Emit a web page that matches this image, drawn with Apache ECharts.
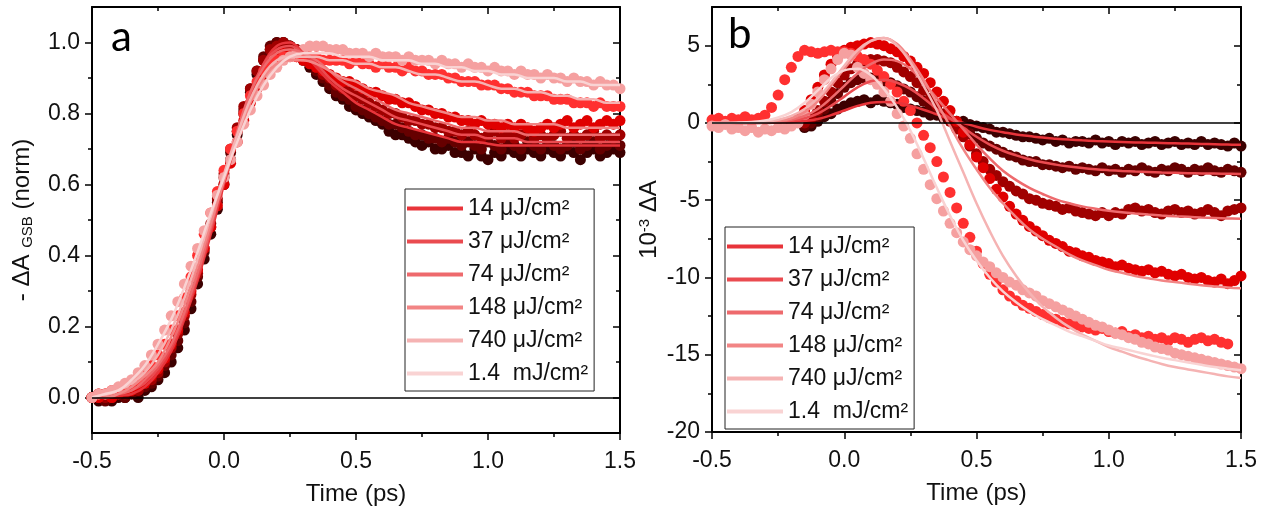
<!DOCTYPE html>
<html><head><meta charset="utf-8">
<script src="https://cdn.jsdelivr.net/npm/echarts@6/dist/echarts.min.js"></script>
<style>html,body{margin:0;padding:0;background:#fff}#c{width:1269px;height:513px}</style>
</head><body><div id="c"></div>
<script>
// ---- time grids (ps) ----
const T = [-0.5,-0.475,-0.45,-0.425,-0.4,-0.375,-0.35,-0.325,-0.3,-0.275,-0.25,-0.225,-0.2,-0.175,-0.15,-0.125,-0.1,-0.075,-0.05,-0.025,0,0.025,0.05,0.075,0.1,0.125,0.15,0.175,0.2,0.225,0.25,0.275,0.3,0.325,0.35,0.375,0.4,0.425,0.45,0.475,0.5,0.525,0.55,0.575,0.6,0.625,0.65,0.675,0.7,0.725,0.75,0.775,0.8,0.825,0.85,0.875,0.9,0.925,0.95,0.975,1.0,1.025,1.05,1.075,1.1,1.125,1.15,1.175,1.2,1.225,1.25,1.275,1.3,1.325,1.35,1.375,1.4,1.425,1.45,1.475,1.5];
const TF = [-0.5,-0.45,-0.4,-0.35,-0.3,-0.25,-0.2,-0.15,-0.1,-0.05,0,0.05,0.1,0.15,0.2,0.25,0.3,0.35,0.4,0.45,0.5,0.55,0.6,0.65,0.7,0.75,0.8,0.85,0.9,0.95,1.0,1.05,1.1,1.15,1.2,1.25,1.3,1.35,1.4,1.45,1.5];

// ---- legend labels (fluence) ----
const names = ['14 μJ/cm²','37 μJ/cm²','74 μJ/cm²','148 μJ/cm²','740 μJ/cm²','1.4  mJ/cm²'];

// ---- panel a: -ΔA GSB (norm), measured points ----
const a14 = [0.0,-0.01,0.0,-0.01,0.0,0.0,0.01,0.0,0.02,0.03,0.05,0.07,0.10,0.14,0.19,0.25,0.32,0.39,0.46,0.53,0.60,0.67,0.74,0.80,0.86,0.91,0.95,0.98,1.0,1.0,0.99,0.97,0.95,0.93,0.91,0.89,0.87,0.85,0.84,0.82,0.81,0.80,0.79,0.78,0.77,0.75,0.74,0.74,0.73,0.72,0.71,0.72,0.70,0.70,0.71,0.69,0.69,0.68,0.70,0.68,0.67,0.69,0.68,0.70,0.69,0.68,0.70,0.69,0.68,0.70,0.69,0.68,0.70,0.69,0.67,0.69,0.70,0.68,0.69,0.70,0.69];
const a37 = [0.0,0.0,-0.01,0.0,0.01,0.0,0.01,0.02,0.03,0.04,0.06,0.09,0.12,0.16,0.21,0.27,0.34,0.41,0.48,0.55,0.62,0.69,0.75,0.81,0.87,0.92,0.96,0.99,1.0,1.0,0.99,0.98,0.96,0.94,0.92,0.90,0.88,0.86,0.85,0.84,0.82,0.81,0.80,0.79,0.78,0.77,0.77,0.76,0.75,0.74,0.74,0.73,0.73,0.72,0.73,0.72,0.71,0.72,0.71,0.70,0.72,0.71,0.70,0.72,0.71,0.70,0.72,0.71,0.70,0.72,0.71,0.70,0.71,0.72,0.70,0.71,0.72,0.70,0.71,0.72,0.71];
const a74 = [0.0,0.01,0.0,0.0,0.01,0.01,0.02,0.02,0.04,0.05,0.07,0.10,0.14,0.18,0.23,0.29,0.35,0.42,0.49,0.56,0.63,0.70,0.76,0.82,0.87,0.92,0.95,0.98,0.99,1.0,0.99,0.98,0.97,0.95,0.93,0.91,0.90,0.88,0.87,0.86,0.85,0.84,0.83,0.82,0.81,0.80,0.80,0.79,0.78,0.78,0.77,0.77,0.76,0.76,0.75,0.75,0.74,0.75,0.74,0.73,0.74,0.75,0.73,0.74,0.73,0.74,0.75,0.73,0.74,0.73,0.74,0.75,0.73,0.74,0.73,0.74,0.75,0.73,0.74,0.73,0.74];
const a148 = [0.0,0.0,0.01,0.0,0.01,0.02,0.02,0.03,0.04,0.06,0.08,0.11,0.15,0.19,0.24,0.30,0.36,0.42,0.48,0.54,0.60,0.66,0.72,0.78,0.83,0.87,0.91,0.94,0.96,0.97,0.97,0.96,0.95,0.94,0.93,0.92,0.91,0.90,0.89,0.89,0.88,0.87,0.86,0.86,0.85,0.84,0.84,0.83,0.83,0.82,0.81,0.81,0.80,0.80,0.79,0.79,0.78,0.78,0.77,0.78,0.77,0.77,0.76,0.77,0.76,0.77,0.76,0.75,0.76,0.77,0.76,0.77,0.78,0.76,0.77,0.78,0.76,0.77,0.78,0.77,0.78];
const a740 = [0.0,0.01,0.01,0.02,0.02,0.03,0.04,0.05,0.07,0.09,0.12,0.15,0.19,0.23,0.28,0.34,0.40,0.46,0.52,0.58,0.64,0.70,0.75,0.80,0.85,0.89,0.92,0.94,0.95,0.96,0.96,0.96,0.96,0.96,0.96,0.95,0.95,0.95,0.95,0.94,0.95,0.94,0.94,0.93,0.94,0.93,0.93,0.92,0.93,0.92,0.92,0.91,0.91,0.91,0.90,0.90,0.89,0.89,0.89,0.88,0.88,0.88,0.87,0.87,0.86,0.86,0.86,0.85,0.85,0.85,0.84,0.84,0.84,0.83,0.83,0.83,0.82,0.83,0.82,0.82,0.82];
const a1400 = [0.0,0.01,0.01,0.02,0.03,0.04,0.05,0.07,0.09,0.12,0.15,0.19,0.23,0.27,0.32,0.37,0.42,0.47,0.52,0.57,0.62,0.67,0.72,0.77,0.81,0.85,0.88,0.91,0.93,0.95,0.96,0.97,0.98,0.99,0.99,0.99,0.98,0.98,0.98,0.97,0.97,0.97,0.96,0.97,0.96,0.96,0.96,0.95,0.96,0.95,0.95,0.95,0.94,0.95,0.94,0.94,0.93,0.94,0.93,0.93,0.92,0.93,0.92,0.92,0.91,0.92,0.91,0.91,0.90,0.91,0.90,0.90,0.89,0.90,0.89,0.89,0.88,0.89,0.88,0.88,0.87];
// ---- panel a fits ----
const fa14 = [0.0,0.0,0.005,0.01,0.03,0.07,0.13,0.22,0.33,0.46,0.60,0.73,0.85,0.94,0.99,1.0,0.97,0.93,0.89,0.86,0.83,0.81,0.79,0.77,0.76,0.75,0.74,0.73,0.72,0.72,0.715,0.71,0.71,0.71,0.71,0.71,0.71,0.71,0.71,0.71,0.71];
const fa37 = [0.0,0.0,0.01,0.02,0.04,0.08,0.14,0.23,0.34,0.47,0.61,0.74,0.86,0.94,0.98,0.99,0.97,0.94,0.90,0.87,0.85,0.83,0.81,0.79,0.78,0.77,0.76,0.75,0.74,0.74,0.73,0.73,0.73,0.72,0.72,0.72,0.72,0.72,0.72,0.72,0.72];
const fa74 = [0.0,0.0,0.01,0.02,0.05,0.09,0.15,0.24,0.35,0.48,0.62,0.75,0.86,0.93,0.97,0.98,0.97,0.95,0.92,0.89,0.87,0.85,0.83,0.81,0.80,0.79,0.78,0.77,0.76,0.76,0.75,0.75,0.75,0.74,0.74,0.74,0.74,0.74,0.74,0.74,0.74];
const fa148 = [0.0,0.0,0.01,0.03,0.06,0.10,0.17,0.26,0.37,0.49,0.61,0.73,0.83,0.90,0.94,0.95,0.95,0.94,0.92,0.90,0.89,0.87,0.86,0.85,0.83,0.82,0.81,0.80,0.79,0.79,0.78,0.78,0.77,0.77,0.77,0.77,0.76,0.76,0.76,0.76,0.76];
const fa740 = [0.0,0.01,0.02,0.04,0.07,0.12,0.19,0.28,0.39,0.51,0.63,0.74,0.84,0.91,0.95,0.96,0.96,0.96,0.95,0.95,0.94,0.94,0.93,0.93,0.92,0.91,0.91,0.90,0.89,0.89,0.88,0.87,0.87,0.86,0.86,0.85,0.85,0.84,0.84,0.83,0.83];
const fa1400 = [0.0,0.01,0.02,0.05,0.09,0.15,0.22,0.31,0.41,0.52,0.62,0.72,0.81,0.88,0.93,0.96,0.97,0.97,0.97,0.96,0.96,0.96,0.95,0.95,0.95,0.94,0.94,0.93,0.93,0.92,0.92,0.91,0.91,0.90,0.90,0.90,0.89,0.89,0.88,0.88,0.88];

// ---- panel b: 10^-3 ΔA, measured points ----
const b14 = [null,null,null,null,null,null,null,null,null,null,null,null,null,null,-0.3,-0.2,0.1,0.4,0.6,0.9,1.1,1.3,1.4,1.5,1.3,1.5,1.4,1.3,1.2,1.0,0.9,0.8,0.7,0.5,0.5,0.3,0.2,0.1,0.1,-0.1,-0.2,-0.3,-0.4,-0.6,-0.6,-0.7,-0.8,-0.9,-0.9,-1.0,-1.1,-1.0,-1.2,-1.1,-1.3,-1.2,-1.2,-1.3,-1.1,-1.3,-1.2,-1.4,-1.2,-1.3,-1.2,-1.4,-1.3,-1.2,-1.4,-1.3,-1.2,-1.4,-1.3,-1.4,-1.2,-1.4,-1.3,-1.4,-1.5,-1.3,-1.5];
const b37 = [null,null,null,null,null,null,null,null,null,null,null,null,null,null,-0.2,0.0,0.4,0.9,1.4,1.9,2.3,2.6,2.8,2.9,2.9,2.8,2.7,2.6,2.4,2.2,2.0,1.7,1.4,1.1,0.8,0.5,0.2,-0.1,-0.4,-0.7,-1.0,-1.3,-1.5,-1.7,-1.9,-2.1,-2.2,-2.4,-2.5,-2.5,-2.7,-2.7,-2.8,-2.9,-2.8,-3.0,-2.9,-3.0,-3.1,-2.9,-3.1,-3.0,-3.2,-3.0,-3.1,-2.9,-3.1,-3.2,-3.0,-3.1,-2.9,-3.0,-3.2,-3.0,-3.1,-2.9,-3.1,-3.2,-3.0,-3.1,-3.2];
const b74 = [null,null,null,null,null,null,null,null,null,null,null,null,null,null,0.0,0.3,0.8,1.4,2.0,2.6,3.1,3.5,3.8,4.0,4.1,4.1,4.0,3.9,3.6,3.3,3.0,2.6,2.1,1.6,1.1,0.6,0.1,-0.4,-0.9,-1.5,-2.0,-2.5,-3.0,-3.4,-3.8,-4.1,-4.4,-4.6,-4.9,-5.0,-5.2,-5.3,-5.4,-5.6,-5.5,-5.7,-5.8,-5.9,-6.0,-5.8,-6.0,-5.8,-5.9,-5.6,-5.5,-5.7,-5.6,-5.8,-5.9,-5.7,-5.6,-5.8,-5.7,-5.9,-5.8,-5.6,-5.8,-6.0,-5.7,-5.6,-5.5];
const b148 = [null,null,null,null,null,null,null,null,null,null,null,null,0.0,0.3,0.8,1.5,2.3,3.1,3.8,4.3,4.7,4.9,5.0,5.1,5.2,5.1,5.0,4.8,4.6,4.3,4.0,3.6,3.2,2.6,2.0,1.4,0.8,0.1,-0.6,-1.4,-2.2,-2.9,-3.6,-4.3,-4.8,-5.4,-5.9,-6.3,-6.7,-7.0,-7.3,-7.6,-7.8,-8.0,-8.3,-8.4,-8.6,-8.7,-8.9,-9.0,-9.1,-9.3,-9.2,-9.4,-9.5,-9.6,-9.5,-9.7,-9.6,-9.8,-9.9,-9.8,-10.0,-10.1,-10.0,-10.2,-10.3,-10.1,-10.4,-10.2,-9.9];
const b740 = [0.2,0.3,0.1,0.3,0.2,0.4,0.2,0.3,0.5,1.0,1.8,2.8,3.6,4.3,4.7,4.6,4.5,4.6,4.7,4.6,4.6,4.5,4.3,4.1,3.8,3.4,3.0,2.5,2.0,1.4,0.8,0.0,-0.8,-1.6,-2.5,-3.5,-4.5,-5.5,-6.5,-7.4,-8.3,-9.1,-9.8,-10.3,-10.8,-11.2,-11.5,-11.8,-12.0,-12.2,-12.4,-12.6,-12.7,-12.9,-13.0,-13.1,-13.2,-13.3,-13.4,-13.3,-13.5,-13.6,-13.5,-13.8,-13.7,-13.9,-13.8,-14.0,-13.9,-14.1,-13.9,-14.0,-14.2,-14.0,-13.9,-14.1,-14.0,-14.2,-14.3,null,null];
const b1400 = [-0.2,-0.3,-0.1,-0.4,-0.3,-0.5,-0.3,-0.6,-0.4,-0.5,-0.3,-0.4,-0.2,0.0,0.5,1.2,2.0,2.8,3.5,4.1,4.5,4.4,3.6,3.2,2.8,2.5,2.0,1.4,0.6,-0.2,-1.0,-2.0,-3.0,-4.0,-4.9,-5.7,-6.5,-7.1,-7.7,-8.2,-8.6,-9.0,-9.3,-9.7,-10.0,-10.3,-10.5,-10.8,-11.0,-11.2,-11.5,-11.7,-11.9,-12.1,-12.3,-12.5,-12.7,-12.9,-13.1,-13.2,-13.4,-13.6,-13.7,-13.9,-14.0,-14.2,-14.3,-14.5,-14.6,-14.7,-14.9,-15.0,-15.1,-15.2,-15.3,-15.4,-15.5,-15.6,-15.7,-15.8,-15.9];
// ---- panel b fits ----
const fb14 = [0,0,0,0,0,0.02,0.05,0.12,0.25,0.5,0.8,1.1,1.3,1.35,1.3,1.1,0.85,0.55,0.25,0.0,-0.25,-0.45,-0.6,-0.75,-0.85,-0.95,-1.02,-1.08,-1.13,-1.17,-1.2,-1.23,-1.26,-1.28,-1.3,-1.32,-1.34,-1.36,-1.38,-1.4,-1.42];
const fb37 = [0,0,0,0,0.01,0.05,0.12,0.3,0.6,1.1,1.7,2.3,2.7,2.8,2.6,2.2,1.6,0.9,0.3,-0.3,-0.9,-1.4,-1.8,-2.1,-2.35,-2.55,-2.7,-2.82,-2.92,-3.0,-3.06,-3.11,-3.15,-3.18,-3.21,-3.23,-3.25,-3.27,-3.28,-3.29,-3.3];
const fb74 = [0,0,0,0,0.02,0.08,0.2,0.45,0.9,1.6,2.4,3.2,3.8,4.1,4.0,3.5,2.6,1.6,0.6,-0.4,-1.4,-2.3,-3.1,-3.7,-4.2,-4.6,-4.95,-5.2,-5.4,-5.55,-5.68,-5.78,-5.86,-5.93,-5.99,-6.04,-6.08,-6.12,-6.15,-6.18,-6.2];
const fb148 = [0,0,0,0.01,0.04,0.12,0.3,0.7,1.4,2.4,3.5,4.5,5.3,5.5,5.1,4.1,2.8,1.3,-0.2,-1.7,-3.0,-4.2,-5.2,-6.1,-6.9,-7.5,-8.0,-8.5,-8.9,-9.2,-9.5,-9.7,-9.9,-10.05,-10.2,-10.3,-10.4,-10.5,-10.58,-10.65,-10.7];
const fb740 = [0,0,0,0.02,0.08,0.2,0.45,0.9,1.6,2.6,3.7,4.7,5.3,5.5,5.0,3.9,2.4,0.8,-1.2,-3.2,-5.2,-7.0,-8.6,-9.9,-11.0,-11.9,-12.6,-13.2,-13.7,-14.1,-14.5,-14.8,-15.1,-15.35,-15.6,-15.8,-15.95,-16.1,-16.25,-16.4,-16.5];
const fb1400 = [0,0,0.02,0.06,0.15,0.35,0.7,1.3,2.1,2.9,3.4,3.5,3.1,2.2,1.0,-0.5,-2.3,-4.2,-6.0,-7.6,-8.9,-10.0,-10.9,-11.6,-12.2,-12.7,-13.1,-13.5,-13.8,-14.1,-14.4,-14.6,-14.8,-15.0,-15.2,-15.35,-15.5,-15.65,-15.8,-15.9,-16.0];

// ---- tick values ----
const xMajor = [-0.5,0,0.5,1.0,1.5], xMinor = [-0.25,0.25,0.75,1.25];
const yaMajor = [0,0.2,0.4,0.6,0.8,1.0], yaMinor = [0.1,0.3,0.5,0.7,0.9];
const ybMajor = [-20,-15,-10,-5,0,5], ybMinor = [-17.5,-12.5,-7.5,-2.5,2.5];

const dataColors = ['#3c0000','#660000','#a00000','#e00000','#ff3030','#f5a0a0'];
const fitColors = ['#e8343a','#ea4b50','#ee6a6d','#f28585','#f5b3b3','#f9d3d3'];

const FONT = '"Liberation Sans", Arial, sans-serif';
const pair = (xs, ys) => xs.map((x,i)=>[x, ys[i]]).filter(p=>p[1]!==null);

function ax(gi, pos, min, max, vals, len, showLine, opts) {
  return Object.assign({
    type:'value', gridIndex:gi, position:pos, min:min, max:max,
    axisLine:{show:showLine, onZero:false, lineStyle:{color:'#000', width:2}},
    axisTick:{show:true, inside:(pos==='top'||pos==='right'), length:len, customValues:vals, lineStyle:{color:'#000', width:1.5}},
    axisLabel:{show:false, customValues:vals},
    splitLine:{show:false}
  }, opts||{});
}
function lab(vals, fmt, margin) {
  return {show:true, customValues:vals, formatter:fmt, margin:margin, fontSize:23, color:'#111', fontFamily:FONT};
}
const fx = v => v.toFixed(1);
const fy = v => String(Math.round(v));

const xAxes = [];
const yAxes = [];
[0,1].forEach(gi=>{
  xAxes.push(ax(gi,'bottom',-0.5,1.5,xMajor,7,true,{axisLabel:lab(xMajor,fx,17), name:'Time (ps)', nameLocation:'middle', nameGap:49, nameTextStyle:{fontSize:24, color:'#111', fontFamily:FONT}}));
  xAxes.push(ax(gi,'bottom',-0.5,1.5,xMinor,4,false));
  xAxes.push(ax(gi,'top',-0.5,1.5,xMajor,7,true));
  xAxes.push(ax(gi,'top',-0.5,1.5,xMinor,4,false));
});
// panel a y
yAxes.push(ax(0,'left',-0.1,1.1,yaMajor,7,true,{axisLabel:lab(yaMajor,fx,12),
  name:'- ΔA {sub|GSB} (norm)', nameLocation:'middle', nameGap:57,
  nameTextStyle:{fontSize:24, color:'#111', fontFamily:FONT, rich:{sub:{fontSize:15, color:'#111', fontFamily:FONT, verticalAlign:'bottom', padding:[10,0,0,0]}}}}));
yAxes.push(ax(0,'left',-0.1,1.1,yaMinor,4,false));
yAxes.push(ax(0,'right',-0.1,1.1,yaMajor,7,true));
yAxes.push(ax(0,'right',-0.1,1.1,yaMinor,4,false));
// panel b y
yAxes.push(ax(1,'left',-20,7.5,ybMajor,7,true,{axisLabel:lab(ybMajor,fy,12),
  name:'10{sup|-3} ΔA', nameLocation:'middle', nameGap:50,
  nameTextStyle:{fontSize:24, color:'#111', fontFamily:FONT, rich:{sup:{fontSize:15, color:'#111', fontFamily:FONT, verticalAlign:'top', padding:[0,0,10,0]}}}}));
yAxes.push(ax(1,'left',-20,7.5,ybMinor,4,false));
yAxes.push(ax(1,'right',-20,7.5,ybMajor,7,true));
yAxes.push(ax(1,'right',-20,7.5,ybMinor,4,false));

const series = [];
const zero = {silent:true, symbol:'none', label:{show:false}, lineStyle:{color:'#000', width:1.5, type:'solid'}, data:[{yAxis:0}]};
function panel(gi, dataArr, fitArr) {
  const xi = gi*4, yi = gi*4;
  dataArr.forEach((d,k)=>{
    const s = {type:'scatter', name:'data '+k+'-'+gi, xAxisIndex:xi, yAxisIndex:yi, data:pair(T,d),
      symbol:'circle', symbolSize:11, itemStyle:{color:dataColors[k], opacity:1}, silent:true, z:2};
    if (k===0) s.markLine = zero;
    series.push(s);
  });
  fitArr.forEach((d,k)=>{
    series.push({type:'line', name:names[k], xAxisIndex:xi, yAxisIndex:yi, data:pair(TF,d),
      smooth:0.4, showSymbol:false, symbol:'none', lineStyle:{color:fitColors[k], width:2.5}, itemStyle:{color:fitColors[k]}, silent:true, z:3});
  });
}
panel(0,[a14,a37,a74,a148,a740,a1400],[fa14,fa37,fa74,fa148,fa740,fa1400]);
panel(1,[b14,b37,b74,b148,b740,b1400],[fb14,fb37,fb74,fb148,fb740,fb1400]);

function legendAt(left, top) {
  return {data:names, left:left, top:top, orient:'vertical', icon:'rect', itemWidth:56, itemHeight:4, itemGap:10,
    borderColor:'#222', borderWidth:1, padding:[8,6,6,2], backgroundColor:'#fff', selectedMode:false,
    textStyle:{fontSize:23, fontFamily:FONT, color:'#111', lineHeight:22}};
}

const chart = echarts.init(document.getElementById('c'), null, {renderer:'canvas'});
chart.setOption({
  animation:false,
  backgroundColor:'#fff',
  grid:[{left:92, top:7, width:528, height:426}, {left:712, top:7, width:529, height:425}],
  xAxis:xAxes, yAxis:yAxes,
  legend:[legendAt(405,189), legendAt(725,227)],
  series:series,
  graphic:[
    {type:'text', left:111, top:16, style:{text:'a', fontSize:42, fontFamily:'Lato, "Open Sans", sans-serif', fill:'#000'}},
    {type:'text', left:728, top:13, style:{text:'b', fontSize:42, fontFamily:'Lato, "Open Sans", sans-serif', fill:'#000'}}
  ]
});
</script></body></html>
